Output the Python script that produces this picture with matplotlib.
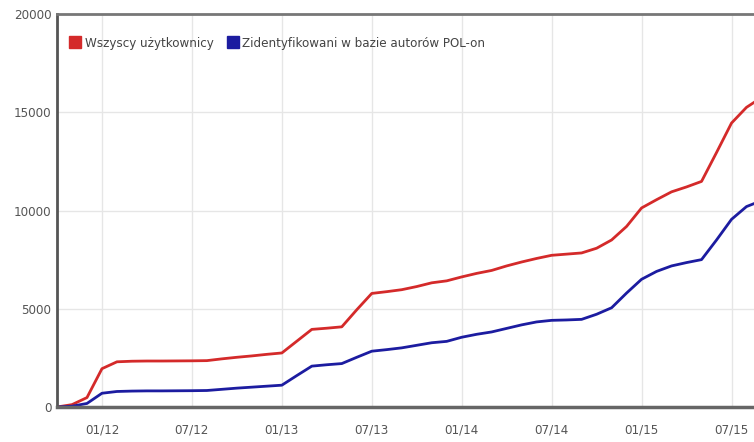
import matplotlib
matplotlib.use("Agg")
import matplotlib.pyplot as plt
from matplotlib.lines import Line2D

plt.rcParams['font.family'] = ['DejaVu Sans']
plt.rcParams['font.stretch'] = 'condensed'

months = ["10/11", "11/11", "12/11",
          "01/12", "02/12", "03/12", "04/12", "05/12", "06/12", "07/12", "08/12", "09/12", "10/12", "11/12", "12/12",
          "01/13", "02/13", "03/13", "04/13", "05/13", "06/13", "07/13", "08/13", "09/13", "10/13", "11/13", "12/13",
          "01/14", "02/14", "03/14", "04/14", "05/14", "06/14", "07/14", "08/14", "09/14", "10/14", "11/14", "12/14",
          "01/15", "02/15", "03/15", "04/15", "05/15", "06/15", "07/15", "08/15", "09/15"]

all_users = [0, 120, 480,
             1950, 2300, 2330, 2340, 2340, 2345, 2350, 2360, 2450, 2530, 2600, 2680,
             2750, 3350, 3950, 4010, 4080, 4950, 5780, 5870, 5970, 6130, 6320, 6420,
             6620, 6800, 6950, 7180, 7380, 7560, 7720, 7780, 7840, 8080, 8500, 9190,
             10130, 10550, 10950, 11200, 11480, 12950, 14450, 15250, 15750]

identified = [0, 40, 180,
              700, 790, 810, 820, 820, 825, 830, 840, 900, 960, 1010, 1060,
              1110, 1600, 2080, 2150, 2210, 2530, 2840, 2920, 3010, 3140, 3270, 3340,
              3550, 3700, 3820, 4000, 4180, 4330, 4410, 4430, 4460, 4720, 5050, 5800,
              6500, 6900, 7180, 7350, 7500, 8500, 9550, 10200, 10500]

tick_labels = ["01/12", "07/12", "01/13", "07/13", "01/14", "07/14", "01/15", "07/15"]
y_ticks = [0, 5000, 10000, 15000, 20000]
series_names = ["Wszyscy użytkownicy", "Zidentyfikowani w bazie autorów POL-on"]

red = "#d42a2a"
blue = "#1c1ca0"

fig = plt.figure(figsize=(7.54, 4.42), dpi=100)
ax = fig.add_axes([57 / 754, 35 / 442, 1 - 57 / 754, 393 / 442])

x = list(range(len(months)))
ax.plot(x, all_users, color=red, lw=2.0, solid_joinstyle='round')
ax.plot(x, identified, color=blue, lw=2.0, solid_joinstyle='round')

ax.set_xlim(0, 46.5)
ax.set_ylim(0, 20000)
ax.set_xticks([months.index(t) for t in tick_labels])
ax.set_xticklabels(tick_labels)
ax.set_yticks(y_ticks)
ax.set_yticklabels([str(v) for v in y_ticks])
ax.tick_params(length=0, labelsize=9.5, colors="#555555", pad=4)
ax.tick_params(axis='x', pad=12)
ax.grid(True, color="#e6e6e6", lw=1)
ax.set_axisbelow(True)

ax.spines['right'].set_visible(False)
ax.spines['left'].set_color("#555555")
ax.spines['left'].set_linewidth(2)
ax.spines['bottom'].set_color("#666666")
ax.spines['bottom'].set_linewidth(2.5)
ax.spines['top'].set_color("#777777")
ax.spines['top'].set_linewidth(2)

handles = [Line2D([], [], ls='none', marker='s', markersize=9, color=red),
           Line2D([], [], ls='none', marker='s', markersize=9, color=blue)]
ax.legend(handles, series_names, loc='upper left', bbox_to_anchor=(0.0, 0.972), ncol=2,
          frameon=False, fontsize=9.5, handletextpad=0.25, columnspacing=0.9,
          labelcolor="#444444", handlelength=1.0)

fig.savefig("out.png", dpi=100)
